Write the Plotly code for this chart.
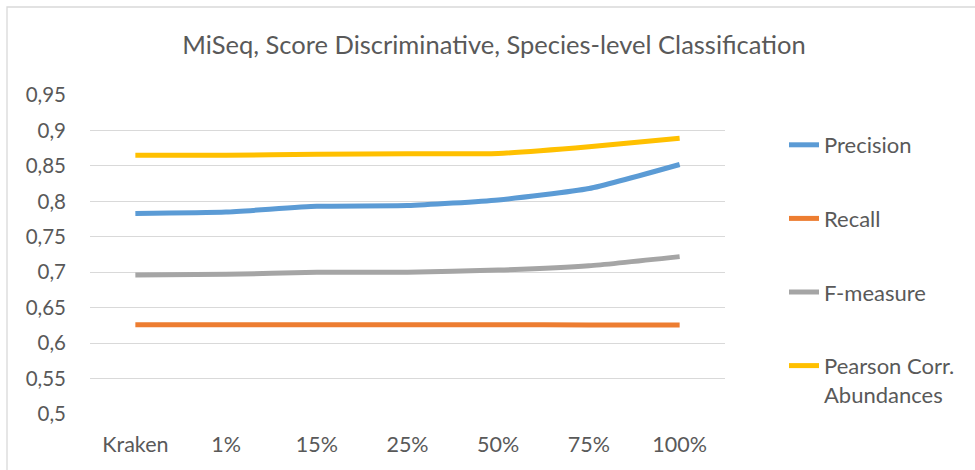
import plotly.graph_objects as go

# Categories along the x axis
categories = ["Kraken", "1%", "15%", "25%", "50%", "75%", "100%"]

# Metric values per category
precision = [0.783, 0.785, 0.793, 0.794, 0.802, 0.818, 0.852]
recall = [0.626, 0.626, 0.626, 0.626, 0.626, 0.6255, 0.6255]
f_measure = [0.696, 0.697, 0.700, 0.700, 0.703, 0.709, 0.722]
pearson = [0.865, 0.865, 0.8665, 0.867, 0.8675, 0.877, 0.889]

y_ticks = [0.5, 0.55, 0.6, 0.65, 0.7, 0.75, 0.8, 0.85, 0.9, 0.95]
y_tick_text = [f"{v:g}".replace(".", ",") for v in y_ticks]

series = [
    ("Precision", precision, "#5B9BD5"),
    ("Recall", recall, "#ED7D31"),
    ("F-measure", f_measure, "#A5A5A5"),
    ("Pearson Corr.<br>Abundances", pearson, "#FFC000"),
]

FONT = "Lato"
TEXT = "#595959"
GRID = "#D9D9D9"

fig = go.Figure()
for i, (name, vals, color) in enumerate(series):
    fig.add_trace(go.Scatter(
        x=categories, y=vals, name=name, mode="lines",
        line=dict(color=color, width=5, shape="spline", smoothing=0.5),
        legendgroup=f"g{i}",
    ))

fig.update_layout(
    width=975, height=470,
    margin=dict(l=90, r=250, t=95, b=56),
    paper_bgcolor="white", plot_bgcolor="white",
    font=dict(family=FONT, color=TEXT, size=20),
    title=dict(
        text="MiSeq, Score Discriminative, Species-level Classification",
        x=494 / 975, xanchor="center", xref="container",
        y=1 - 45 / 470, yanchor="middle", yref="container",
        font=dict(family=FONT, size=25.5, color=TEXT),
    ),
    xaxis=dict(
        type="category", range=[-0.5, 6.5],
        showgrid=False, showline=False, zeroline=False,
        ticks="", ticklabelstandoff=15,
        tickfont=dict(size=21.5, color=TEXT),
    ),
    yaxis=dict(
        range=[0.5, 0.95], tickvals=y_ticks, ticktext=y_tick_text,
        showgrid=True, gridcolor=GRID, gridwidth=1.3,
        showline=False, zeroline=False,
        ticks="", ticklabelstandoff=23,
        tickfont=dict(size=20.5, color=TEXT),
    ),
    legend=dict(
        x=(784 - 90) / 635, xanchor="left",
        y=(414 - 124) / 319, yanchor="top",
        tracegroupgap=42, valign="top",
        font=dict(size=22, color=TEXT),
        bgcolor="rgba(0,0,0,0)",
    ),
    showlegend=True,
    shapes=[dict(
        type="rect", xref="paper", yref="paper",
        x0=(7 - 90) / 635, x1=2.0,
        y0=-1.0, y1=(414 - 7) / 319,
        line=dict(color=GRID, width=1.3), fillcolor="rgba(0,0,0,0)",
        layer="below",
    )],
)

fig.write_html("out.html")
